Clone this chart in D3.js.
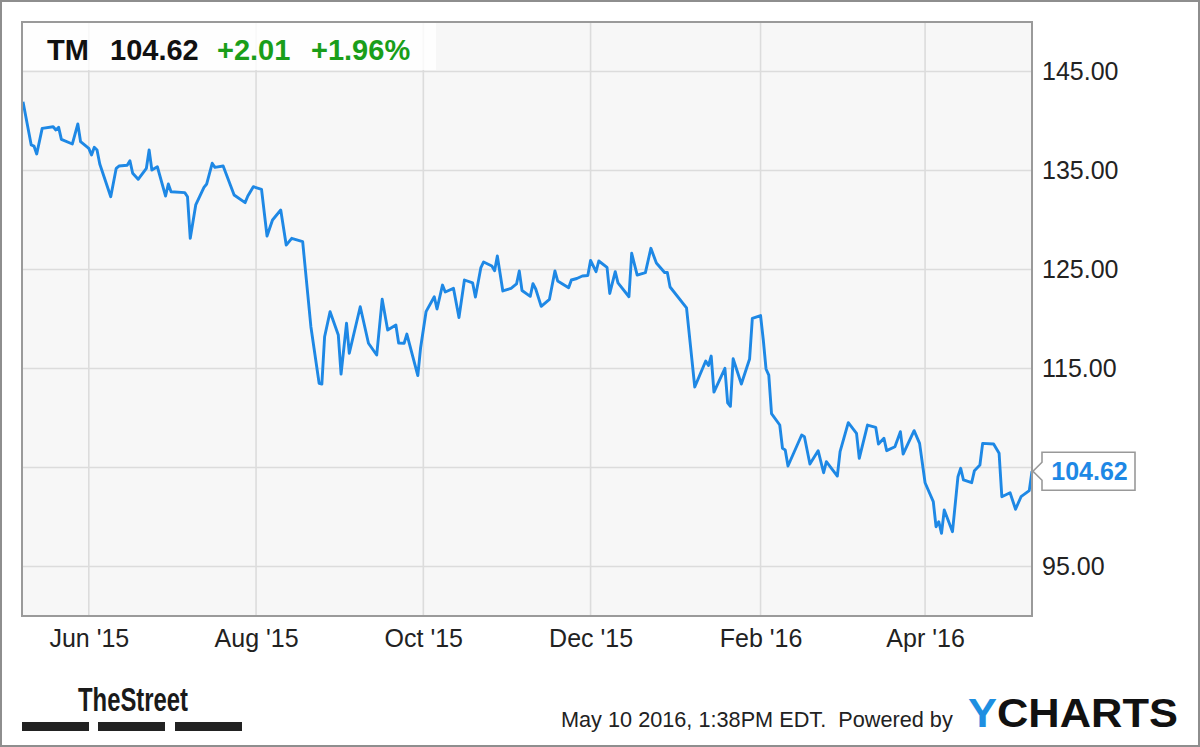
<!DOCTYPE html>
<html>
<head>
<meta charset="utf-8">
<script src="https://cdn.jsdelivr.net/npm/d3@7"></script>
<style>
    html, body { margin: 0; padding: 0; background: #fff; }
    svg { display: block; font-family: "Liberation Sans", Arial, sans-serif; }
</style>
</head>
<body>
<div id="chart"></div>
<script>
//~~~~~~~~~~~~~~~~~~~~~~~~~~~~~~~~~~~~
// Data
//~~~~~~~~~~~~~~~~~~~~~~~~~~~~~~~~~~~~
const ticker = "TM";
const lastPrice = 104.62;
const change = 2.01;
const changePct = 1.96;
const stamp = "May 10 2016, 1:38PM EDT.  Powered by";

const dates = [
    "2015-05-08","2015-05-11","2015-05-12","2015-05-13","2015-05-15","2015-05-19","2015-05-20","2015-05-21",
    "2015-05-22","2015-05-26","2015-05-28","2015-05-29","2015-06-01","2015-06-02","2015-06-03","2015-06-04",
    "2015-06-05","2015-06-09","2015-06-11","2015-06-12","2015-06-15","2015-06-16","2015-06-17","2015-06-19",
    "2015-06-22","2015-06-23","2015-06-24","2015-06-26","2015-06-29","2015-06-30","2015-07-01","2015-07-06",
    "2015-07-07","2015-07-08","2015-07-10","2015-07-13","2015-07-14","2015-07-16","2015-07-17","2015-07-20",
    "2015-07-24","2015-07-28","2015-07-29","2015-07-31","2015-08-03","2015-08-05","2015-08-07","2015-08-10",
    "2015-08-12","2015-08-14","2015-08-18","2015-08-21","2015-08-24","2015-08-25","2015-08-26","2015-08-28",
    "2015-08-31","2015-09-01","2015-09-03","2015-09-04","2015-09-08","2015-09-11","2015-09-14","2015-09-16",
    "2015-09-18","2015-09-21","2015-09-22","2015-09-24","2015-09-25","2015-09-29","2015-09-30","2015-10-02",
    "2015-10-05","2015-10-06","2015-10-08","2015-10-09","2015-10-12","2015-10-14","2015-10-16","2015-10-19",
    "2015-10-20","2015-10-22","2015-10-23","2015-10-26","2015-10-27","2015-10-28","2015-10-30","2015-11-02",
    "2015-11-04","2015-11-05","2015-11-06","2015-11-09","2015-11-10","2015-11-11","2015-11-13","2015-11-16",
    "2015-11-18","2015-11-19","2015-11-23","2015-11-24","2015-11-26","2015-11-28","2015-11-30","2015-12-01",
    "2015-12-03","2015-12-04","2015-12-07","2015-12-08","2015-12-10","2015-12-11","2015-12-15","2015-12-16",
    "2015-12-18","2015-12-21","2015-12-23","2015-12-25","2015-12-28","2015-12-29","2015-12-30","2016-01-05",
    "2016-01-08","2016-01-12","2016-01-13","2016-01-14","2016-01-15","2016-01-19","2016-01-20","2016-01-21",
    "2016-01-22","2016-01-25","2016-01-28","2016-01-29","2016-02-01","2016-02-02","2016-02-03","2016-02-04",
    "2016-02-05","2016-02-08","2016-02-09","2016-02-10","2016-02-11","2016-02-16","2016-02-17","2016-02-19",
    "2016-02-22","2016-02-24","2016-02-25","2016-02-29","2016-03-01","2016-03-04","2016-03-07","2016-03-08",
    "2016-03-11","2016-03-14","2016-03-15","2016-03-17","2016-03-18","2016-03-21","2016-03-23","2016-03-24",
    "2016-03-28","2016-03-30","2016-04-01","2016-04-04","2016-04-05","2016-04-06","2016-04-07","2016-04-08",
    "2016-04-11","2016-04-13","2016-04-14","2016-04-15","2016-04-18","2016-04-19","2016-04-21","2016-04-22",
    "2016-04-26","2016-04-28","2016-04-29","2016-05-02","2016-05-04","2016-05-06","2016-05-09","2016-05-10"
];

const prices = [
    141.95,137.58,137.47,136.67,139.26,139.42,139.09,139.36,
    138.15,137.68,139.70,137.91,137.24,136.57,137.34,137.07,
    135.66,132.35,135.22,135.45,135.53,135.99,134.72,134.11,
    135.22,137.07,135.05,135.38,132.42,133.64,132.86,132.76,
    132.35,128.15,131.52,133.30,133.64,135.73,135.32,135.45,
    132.53,131.75,132.42,133.36,133.10,128.38,130.00,131.01,
    127.47,128.15,127.81,119.22,113.51,113.43,118.21,120.74,
    118.38,114.44,119.57,116.54,121.24,117.55,116.36,121.99,
    118.89,119.39,117.58,117.55,118.48,114.29,117.07,120.74,
    122.25,121.01,123.43,122.73,123.10,120.15,123.94,123.64,
    122.22,125.20,125.76,125.35,124.88,126.36,122.83,123.10,
    123.54,124.85,122.88,122.29,123.57,123.03,121.28,121.99,
    124.85,123.84,123.15,123.94,124.09,124.34,124.39,125.91,
    124.78,125.86,125.22,122.58,124.78,123.64,122.25,126.64,
    124.44,124.68,127.14,125.66,124.70,124.70,123.23,121.13,
    113.13,115.76,115.30,116.26,112.61,115.02,111.52,111.18,
    115.98,113.43,115.96,120.07,120.35,117.88,114.95,114.34,
    110.45,109.29,106.94,106.77,105.15,108.28,108.11,105.35,
    106.70,104.47,105.59,104.14,106.60,109.53,108.45,105.93,
    109.29,109.06,107.37,107.95,106.70,107.10,108.62,106.36,
    108.72,107.44,103.46,101.55,99.02,99.53,98.35,100.71,
    98.52,104.07,104.92,103.74,103.46,104.68,105.25,107.44,
    107.37,106.43,102.05,102.45,100.78,102.05,102.66,104.62
];

const xTicks = ["2015-06-01","2015-08-01","2015-10-01","2015-12-01","2016-02-01","2016-04-01"];
const yTicks = [95, 105, 115, 125, 135, 145];
const yDomain = [90, 150];

//~~~~~~~~~~~~~~~~~~~~~~~~~~~~~~~~~~~~
// squeeze a text horizontally so it spans `w` pixels
//~~~~~~~~~~~~~~~~~~~~~~~~~~~~~~~~~~~~
function fitText(g, x, y, w) {
    const t = g.select("text").node();
    const natural = t.getComputedTextLength();
    g.attr("transform", `translate(${x},${y}) scale(${w / natural},1)`);
}

//~~~~~~~~~~~~~~~~~~~~~~~~~~~~~~~~~~~~
// Chart
//~~~~~~~~~~~~~~~~~~~~~~~~~~~~~~~~~~~~
function createChart() {
    const width = 1200;
    const height = 747;
    const plot = {left: 22, top: 22, right: 1032, bottom: 616};
    const blue = "#1e88e5";
    const green = "#1a9e1a";

    const parse = d3.timeParse("%Y-%m-%d");
    const data = dates.map((d, i) => ({date: parse(d), value: prices[i]}));
    const last = data[data.length - 1];

    const x = d3.scaleTime()
        .domain(d3.extent(data, d => d.date))
        .range([plot.left + 1, plot.right]);

    const y = d3.scaleLinear()
        .domain(yDomain)
        .range([plot.bottom, plot.top]);

    const svg = d3.select("#chart")
        .append("svg")
        .attr("width", width)
        .attr("height", height);

    // outer frame
    svg.append("rect")
        .attr("x", 1).attr("y", 1)
        .attr("width", width - 2).attr("height", height - 2)
        .attr("fill", "#fff")
        .attr("stroke", "#8e8e8e")
        .attr("stroke-width", 2);

    // plot background
    svg.append("rect")
        .attr("x", plot.left).attr("y", plot.top)
        .attr("width", plot.right - plot.left)
        .attr("height", plot.bottom - plot.top)
        .attr("fill", "#f7f7f7");

    // grid
    svg.append("g")
        .selectAll("line")
        .data(yTicks)
        .join("line")
        .attr("x1", plot.left).attr("x2", plot.right)
        .attr("y1", d => y(d)).attr("y2", d => y(d))
        .attr("stroke", "#dcdcdc")
        .attr("stroke-width", 1.6);

    svg.append("g")
        .selectAll("line")
        .data(xTicks.map(parse))
        .join("line")
        .attr("x1", d => x(d)).attr("x2", d => x(d))
        .attr("y1", plot.top).attr("y2", plot.bottom)
        .attr("stroke", "#dcdcdc")
        .attr("stroke-width", 1.6);

    // price line
    const line = d3.line()
        .x(d => x(d.date))
        .y(d => y(d.value));

    svg.append("path")
        .datum(data)
        .attr("fill", "none")
        .attr("stroke", blue)
        .attr("stroke-width", 2.9)
        .attr("stroke-linejoin", "round")
        .attr("d", line);

    // plot border
    svg.append("rect")
        .attr("x", plot.left).attr("y", plot.top)
        .attr("width", plot.right - plot.left)
        .attr("height", plot.bottom - plot.top)
        .attr("fill", "none")
        .attr("stroke", "#9a9a9a")
        .attr("stroke-width", 2);

    // axes
    const xAxis = svg.append("g")
        .attr("transform", `translate(0,${plot.bottom})`)
        .call(d3.axisBottom(x)
            .tickValues(xTicks.map(parse))
            .tickFormat(d3.timeFormat("%b '%y"))
            .tickSize(0)
            .tickPadding(13));
    xAxis.select(".domain").remove();
    xAxis.selectAll("text")
        .attr("font-size", 25)
        .attr("font-family", "Liberation Sans, Arial, sans-serif")
        .attr("fill", "#222");

    // the 105.00 label sits behind the last-price callout, so skip it
    const hidden = yTicks.filter(t => Math.abs(y(t) - y(last.value)) < 20);
    const yAxis = svg.append("g")
        .attr("transform", `translate(${plot.right},0)`)
        .call(d3.axisRight(y)
            .tickValues(yTicks.filter(t => !hidden.includes(t)))
            .tickFormat(d3.format(".2f"))
            .tickSize(0)
            .tickPadding(10));
    yAxis.select(".domain").remove();
    yAxis.selectAll("text")
        .attr("font-size", 25)
        .attr("font-family", "Liberation Sans, Arial, sans-serif")
        .attr("fill", "#222");

    // header box
    svg.append("rect")
        .attr("x", plot.left + 1).attr("y", plot.top + 1)
        .attr("width", 413).attr("height", 47)
        .attr("fill", "#fff")
        .attr("fill-opacity", 0.8);

    const header = svg.append("text")
        .attr("y", 60)
        .attr("font-size", 29)
        .attr("font-weight", "bold");
    header.append("tspan").attr("x", 47).attr("fill", "#111").text(ticker);
    header.append("tspan").attr("x", 110).attr("fill", "#111").text(lastPrice.toFixed(2));
    header.append("tspan").attr("x", 217).attr("fill", green).text("+" + change.toFixed(2));
    header.append("tspan").attr("x", 311).attr("fill", green).text("+" + changePct.toFixed(2) + "%");

    // last price callout
    const ly = y(last.value);
    const bx = plot.right + 10, bw = 93, bh = 38;
    svg.append("path")
        .attr("d", `M${bx},${ly - bh / 2} H${bx + bw} V${ly + bh / 2} H${bx} V${ly + 9} L${plot.right + 1},${ly} L${bx},${ly - 9} Z`)
        .attr("fill", "#fff")
        .attr("stroke", "#999")
        .attr("stroke-width", 1.6);
    svg.append("text")
        .attr("x", bx + bw / 2 + 1)
        .attr("y", ly + 9)
        .attr("text-anchor", "middle")
        .attr("font-size", 25)
        .attr("font-weight", "bold")
        .attr("fill", blue)
        .text(last.value.toFixed(2));

    // footer: TheStreet logo
    const street = svg.append("g");
    street.append("text")
        .attr("font-size", 34)
        .attr("font-weight", "bold")
        .attr("fill", "#1a1a1a")
        .text("TheStreet");
    fitText(street, 78, 711, 110);

    svg.append("g")
        .selectAll("rect")
        .data([22, 98, 175])
        .join("rect")
        .attr("x", d => d).attr("y", 722)
        .attr("width", 67).attr("height", 9)
        .attr("fill", "#222");

    // footer: timestamp + YCharts
    const stampG = svg.append("g");
    stampG.append("text")
        .attr("font-size", 23)
        .attr("fill", "#222")
        .attr("xml:space", "preserve")
        .text(stamp);
    fitText(stampG, 561, 727, 392);

    const logoG = svg.append("g");
    const logo = logoG.append("text")
        .attr("font-size", 41)
        .attr("font-weight", "bold");
    logo.append("tspan").attr("fill", "#1e8fe1").text("Y");
    logo.append("tspan").attr("fill", "#111").text("CHARTS");
    fitText(logoG, 968, 727, 210);
}

document.addEventListener('DOMContentLoaded', () => {
    createChart();
});
</script>
</body>
</html>
